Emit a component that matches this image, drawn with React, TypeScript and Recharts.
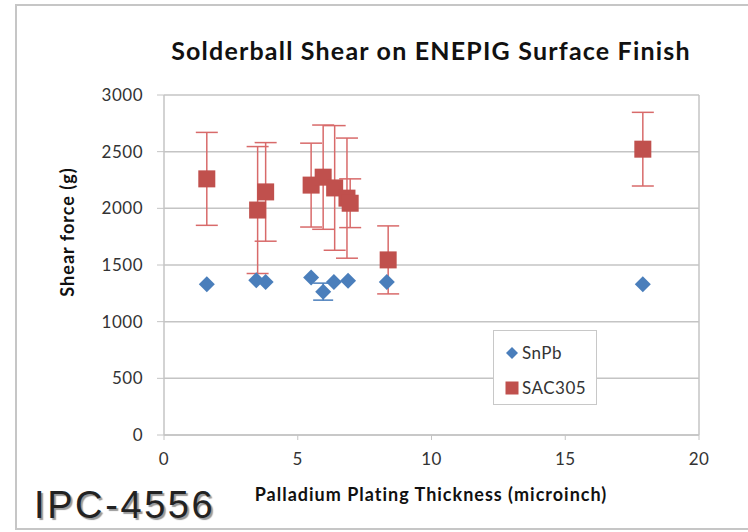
import React from "react";
import {
  ScatterChart,
  Scatter,
  XAxis,
  YAxis,
  CartesianGrid,
  ErrorBar,
  ReferenceLine,
} from "recharts";

const snpbX = [1.6, 3.45, 3.8, 5.5, 5.95, 6.35, 6.88, 8.33, 17.9];
const snpbY = [1330, 1365, 1350, 1390, 1265, 1350, 1360, 1350, 1330];
const snpbErr = [0, 0, 0, 0, 75, 0, 0, 0, 0];

const sacX = [1.6, 3.5, 3.8, 5.5, 5.95, 6.38, 6.84, 6.96, 8.38, 17.9];
const sacY = [2260, 1985, 2145, 2205, 2275, 2180, 2090, 2045, 1545, 2522];
const sacErr = [410, 560, 435, 370, 460, 550, 530, 215, 300, 325];

const xTicks = [0, 5, 10, 15, 20];
const yTicks = [0, 500, 1000, 1500, 2000, 2500, 3000];

const titleText = "Solderball Shear on ENEPIG Surface Finish";
const xLabel = "Palladium Plating Thickness (microinch)";
const yLabel = "Shear force (g)";
const watermark = "IPC-4556";
const seriesNames = ["SnPb", "SAC305"];

const snpbData = snpbX.map((x, i) => ({ x, y: snpbY[i], err: snpbErr[i] }));
const sacData = sacX.map((x, i) => ({ x, y: sacY[i], err: sacErr[i] }));

const BLUE = "#4a7ebb";
const RED = "#c0504d";
const RED_ERR = "#d86a6a";
const GRID = "#c4c4c4";
const FONT = "Lato, 'Open Sans', sans-serif";

const DiamondShape = (p: any) => {
  const { cx, cy } = p;
  const r = 8;
  return (
    <polygon
      points={`${cx},${cy - r} ${cx + r},${cy} ${cx},${cy + r} ${cx - r},${cy}`}
      fill={BLUE}
    />
  );
};

const SquareShape = (p: any) => {
  const { cx, cy } = p;
  const s = 17;
  return <rect x={cx - s / 2} y={cy - s / 2} width={s} height={s} fill={RED} />;
};

export default function App() {
  return (
    <div
      style={{
        position: "absolute",
        left: 0,
        top: 0,
        width: 748,
        height: 532,
        overflow: "hidden",
        background: "#fff",
        fontFamily: FONT,
      }}
    >
      <div
        style={{
          position: "absolute",
          left: 15,
          top: 4,
          width: 800,
          height: 526,
          border: "2px solid #c6c6c6",
          boxSizing: "border-box",
        }}
      />
      <ScatterChart
        width={748}
        height={532}
        margin={{ top: 95, right: 49, left: 0, bottom: 0 }}
        style={{ position: "absolute", left: 0, top: 0 }}
      >
        <CartesianGrid horizontal vertical={false} stroke={GRID} strokeWidth={1.5} />
        <ReferenceLine x={20} stroke={GRID} strokeWidth={1.5} />
        <XAxis
          type="number"
          dataKey="x"
          domain={[0, 20]}
          ticks={xTicks}
          height={97}
          tickSize={5}
          tickMargin={13}
          stroke={GRID}
          axisLine={{ stroke: GRID, strokeWidth: 1.5 }}
          tickLine={{ stroke: GRID }}
          tick={{ fill: "#333", fontSize: 17, fontFamily: FONT, letterSpacing: 0.5 }}
        />
        <YAxis
          type="number"
          dataKey="y"
          domain={[0, 3000]}
          ticks={yTicks}
          width={164}
          tickSize={7}
          tickMargin={14}
          axisLine={{ stroke: GRID, strokeWidth: 1.5 }}
          tickLine={{ stroke: GRID }}
          tick={{ fill: "#333", fontSize: 17, fontFamily: FONT, letterSpacing: 0.5 }}
        />
        <Scatter
          name={seriesNames[0]}
          data={snpbData}
          shape={DiamondShape}
          isAnimationActive={false}
        >
          <ErrorBar dataKey="err" direction="y" width={10} stroke={BLUE} strokeWidth={1.5} />
        </Scatter>
        <Scatter
          name={seriesNames[1]}
          data={sacData}
          shape={SquareShape}
          isAnimationActive={false}
        >
          <ErrorBar dataKey="err" direction="y" width={11} stroke={RED_ERR} strokeWidth={1.5} />
        </Scatter>
      </ScatterChart>

      <div
        style={{
          position: "absolute",
          left: 0,
          width: 862,
          top: 35,
          textAlign: "center",
          fontSize: 25,
          letterSpacing: 1.2,
          fontWeight: 700,
          color: "#111",
          whiteSpace: "nowrap",
        }}
      >
        {titleText}
      </div>

      <div
        style={{
          position: "absolute",
          left: 0,
          width: 862,
          top: 483,
          textAlign: "center",
          fontSize: 18,
          letterSpacing: 1,
          fontWeight: 700,
          color: "#111",
          whiteSpace: "nowrap",
        }}
      >
        {xLabel}
      </div>

      <div
        style={{
          position: "absolute",
          left: 67,
          top: 232,
          transform: "translate(-50%, -50%) rotate(-90deg)",
          fontSize: 18,
          letterSpacing: 1,
          fontWeight: 700,
          color: "#111",
          whiteSpace: "nowrap",
        }}
      >
        {yLabel}
      </div>

      <div
        style={{
          position: "absolute",
          left: 34,
          top: 484,
          fontFamily: "'Liberation Sans', Arial, sans-serif",
          fontSize: 38,
          letterSpacing: 2.6,
          color: "#222",
          textShadow: "2px 2px 1px #999",
          whiteSpace: "nowrap",
        }}
      >
        {watermark}
      </div>

      <div
        style={{
          position: "absolute",
          left: 493,
          top: 330,
          width: 104,
          height: 75,
          border: "1.5px solid #c8c8c8",
          boxSizing: "border-box",
          background: "#fff",
          fontSize: 17,
          letterSpacing: 0.5,
          color: "#333",
        }}
      >
        <div style={{ position: "absolute", left: 11, top: 11, display: "flex", alignItems: "center" }}>
          <svg width={14} height={14} style={{ marginRight: 3 }}>
            <polygon points="7,1 13,7 7,13 1,7" fill={BLUE} />
          </svg>
          <span>{seriesNames[0]}</span>
        </div>
        <div style={{ position: "absolute", left: 11, top: 46, display: "flex", alignItems: "center" }}>
          <svg width={14} height={14} style={{ marginRight: 3 }}>
            <rect x={0.5} y={0.5} width={13} height={13} fill={RED} />
          </svg>
          <span>{seriesNames[1]}</span>
        </div>
      </div>
    </div>
  );
}
